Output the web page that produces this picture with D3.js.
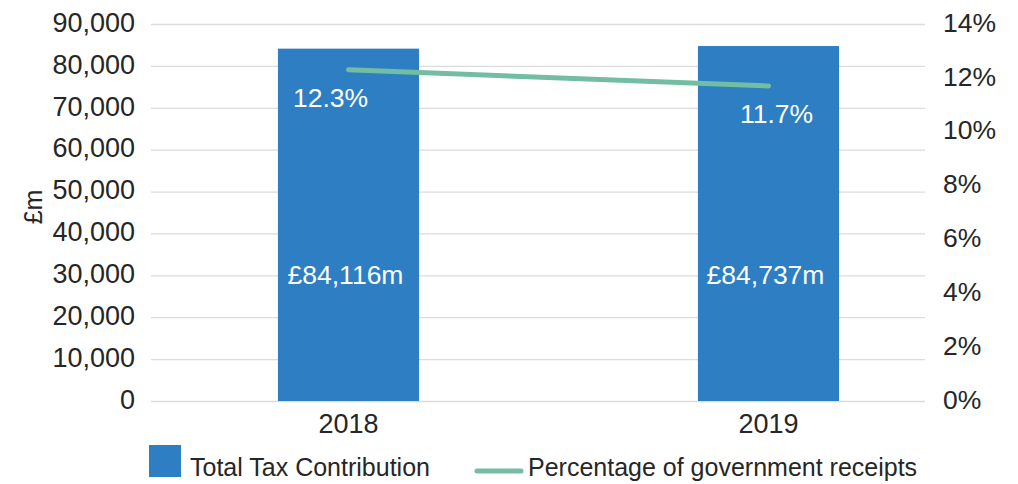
<!DOCTYPE html>
<html>
<head>
<meta charset="utf-8">
<script src="https://cdn.jsdelivr.net/npm/d3@7"></script>
<style>
  body { margin: 0; background: #fff; }
  svg text { font-family: "Liberation Sans", Arial, sans-serif; fill: #262626; }
  .domain { display: none; }
</style>
</head>
<body>
<div id="chart"></div>
<script>
// data
var years = ['2018', '2019']
var totalTax = [84116, 84737]
var pctReceipts = [0.123, 0.117]
var taxLabels = ['£84,116m', '£84,737m']
var pctLabels = ['12.3%', '11.7%']
var leftTicks = [0, 10000, 20000, 30000, 40000, 50000, 60000, 70000, 80000, 90000]
var rightTicks = [0, 0.02, 0.04, 0.06, 0.08, 0.10, 0.12, 0.14]

var width = 1018, height = 484
var plot = { left: 151, right: 925, top: 24, bottom: 401 }

var barColor = '#2e7ec3'
var lineColor = '#73bea3'

var svg = d3.select('#chart')
  .append('svg')
  .attr('width', width)
  .attr('height', height)

// scales
var xScale = d3.scaleBand()
  .domain(years)
  .range([138.5, 978.5])
  .paddingInner(0.664)
  .paddingOuter(0.332)

var yLeft = d3.scaleLinear()
  .domain([0, 90000])
  .range([plot.bottom, plot.top])

var yRight = d3.scaleLinear()
  .domain([0, 0.14])
  .range([plot.bottom, plot.top])

// grid
var grid = svg.append('g')
  .attr('class', 'grid')
  .attr('transform', `translate(${plot.left},0)`)
  .call(d3.axisLeft(yLeft)
    .tickValues(leftTicks)
    .tickSize(-(plot.right - plot.left))
    .tickFormat(''))
grid.selectAll('line')
  .attr('stroke', '#dcdcdc')
  .attr('stroke-width', 1.3)

// left axis
var yAxisL = svg.append('g')
  .attr('transform', `translate(${plot.left},0)`)
  .call(d3.axisLeft(yLeft)
    .tickValues(leftTicks)
    .tickSize(0)
    .tickPadding(16)
    .tickFormat(d3.format(',')))
yAxisL.selectAll('text')
  .style('font-size', '27px')
  .attr('dy', '0.27em')

// right axis
var yAxisR = svg.append('g')
  .attr('transform', `translate(${plot.right},0)`)
  .call(d3.axisRight(yRight)
    .tickValues(rightTicks)
    .tickSize(0)
    .tickPadding(18)
    .tickFormat(d3.format('.0%')))
yAxisR.selectAll('text')
  .style('font-size', '26.5px')
  .attr('dy', '0.27em')

// x axis labels
var xAxis = svg.append('g')
  .attr('transform', `translate(0,${plot.bottom})`)
  .call(d3.axisBottom(xScale).tickSize(0).tickPadding(0))
xAxis.selectAll('text')
  .style('font-size', '27px')
  .attr('y', 32)
  .attr('dy', 0)

// y title
svg.append('text')
  .attr('transform', `translate(42,207) rotate(-90)`)
  .attr('text-anchor', 'middle')
  .style('font-size', '25px')
  .text('£m')

// bars
svg.append('g')
  .selectAll('rect')
  .data(years)
  .enter()
  .append('rect')
  .attr('x', d => xScale(d))
  .attr('y', (d, i) => yLeft(totalTax[i]))
  .attr('width', xScale.bandwidth())
  .attr('height', (d, i) => yLeft(0) - yLeft(totalTax[i]))
  .attr('fill', barColor)

// bar labels
svg.append('g')
  .selectAll('text')
  .data(years)
  .enter()
  .append('text')
  .attr('x', d => xScale(d) + xScale.bandwidth() / 2 - 3)
  .attr('y', yLeft(30000) + 9)
  .attr('text-anchor', 'middle')
  .style('font-size', '26.5px')
  .style('fill', '#fff')
  .text((d, i) => taxLabels[i])

// line
var line = d3.line()
  .x(d => xScale(d) + xScale.bandwidth() / 2)
  .y((d, i) => yRight(pctReceipts[i]))

svg.append('path')
  .datum(years)
  .attr('d', line)
  .attr('fill', 'none')
  .attr('stroke', lineColor)
  .attr('stroke-width', 5)
  .attr('stroke-linecap', 'round')

// line labels
var pctOffsets = [-18, 8]
svg.append('g')
  .selectAll('text')
  .data(years)
  .enter()
  .append('text')
  .attr('x', (d, i) => xScale(d) + xScale.bandwidth() / 2 + pctOffsets[i])
  .attr('y', (d, i) => yRight(pctReceipts[i]) + 37)
  .attr('text-anchor', 'middle')
  .style('font-size', '26.5px')
  .style('fill', '#fff')
  .text((d, i) => pctLabels[i])

// legend
var legend = svg.append('g')
  .attr('class', 'legend')

legend.append('rect')
  .attr('x', 149)
  .attr('y', 445)
  .attr('width', 32)
  .attr('height', 32)
  .attr('fill', barColor)

legend.append('text')
  .attr('x', 190)
  .attr('y', 476)
  .style('font-size', '25px')
  .text('Total Tax Contribution')

legend.append('line')
  .attr('x1', 477)
  .attr('x2', 521)
  .attr('y1', 471)
  .attr('y2', 471)
  .attr('stroke', lineColor)
  .attr('stroke-width', 5)
  .attr('stroke-linecap', 'round')

legend.append('text')
  .attr('x', 528)
  .attr('y', 476)
  .style('font-size', '25px')
  .text('Percentage of government receipts')
</script>
</body>
</html>
